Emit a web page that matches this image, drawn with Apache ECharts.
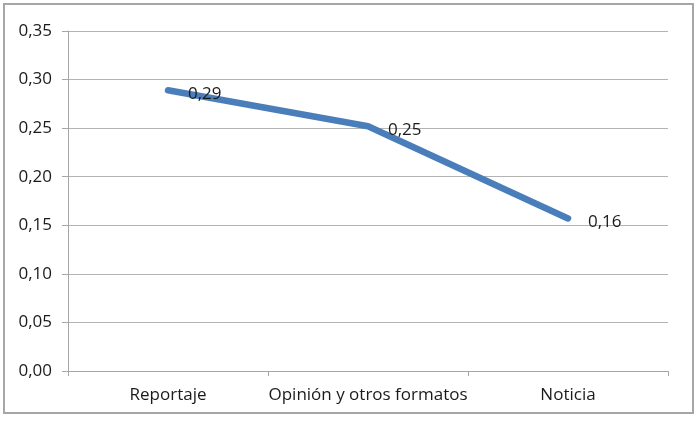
<!DOCTYPE html>
<html><head><meta charset="utf-8">
<script src="https://cdn.jsdelivr.net/npm/echarts@6/dist/echarts.min.js"></script>
<style>html,body{margin:0;padding:0;background:#fff}#c{width:700px;height:423px}</style>
</head><body><div id="c"></div>
<script>
const categories = ['Reportaje', 'Opinión y otros formatos', 'Noticia'];
const values = [0.289, 0.252, 0.157];
const labelsText = ['0,29', '0,25', '0,16'];
const yMin = 0, yMax = 0.35, yStep = 0.05;

const chart = echarts.init(document.getElementById('c'));
const font = '"Open Sans", Lato, sans-serif';
chart.setOption({
  animation: false,
  graphic: [{type: 'rect', shape: {x: 4, y: 4, width: 689, height: 409}, style: {fill: 'none', stroke: '#a6a6a6', lineWidth: 2}, silent: true}],
  grid: {left: 68, right: 32, top: 31, bottom: 52},
  xAxis: {
    type: 'category', data: categories, boundaryGap: true,
    axisLine: {lineStyle: {color: '#a6a6a6', width: 1}},
    axisTick: {show: true, length: 5, lineStyle: {color: '#a6a6a6'}},
    axisLabel: {color: '#1a1a1a', fontSize: 17, fontFamily: font, margin: 16, interval: 0}
  },
  yAxis: {
    type: 'value', min: yMin, max: yMax, interval: yStep,
    axisLine: {show: true, lineStyle: {color: '#a6a6a6', width: 1}},
    axisTick: {show: true, length: 6, lineStyle: {color: '#a6a6a6'}},
    splitLine: {lineStyle: {color: '#b3b3b3', width: 1}},
    axisLabel: {color: '#1a1a1a', fontSize: 17, fontFamily: font, margin: 16,
      formatter: v => v.toFixed(2).replace('.', ',')}
  },
  series: [{
    type: 'line', data: values, symbol: 'circle', symbolSize: 2, showSymbol: true,
    itemStyle: {color: '#4a7ebb'},
    lineStyle: {color: '#4a7ebb', width: 6.5, cap: 'round', join: 'round'},
    label: {show: true, position: 'right', distance: 19, offset: [0, 4], color: '#1a1a1a', fontSize: 17, fontFamily: font,
      formatter: p => labelsText[p.dataIndex]}
  }]
});
</script></body></html>
